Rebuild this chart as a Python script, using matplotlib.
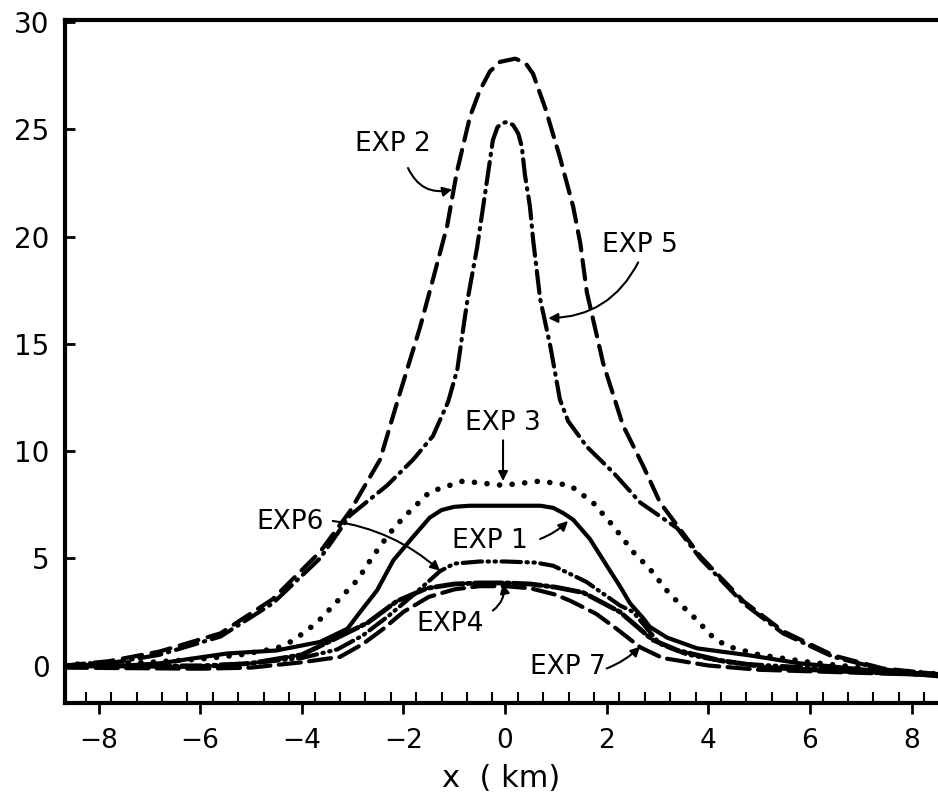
import matplotlib
matplotlib.use("Agg")
import matplotlib.pyplot as plt

plt.rcParams['font.family'] = ['DejaVu Sans']
plt.rcParams['lines.scale_dashes'] = False

# curves (x in km)
x_exp2 = [-8.66, -7.8, -6.8, -5.6, -4.57, -3.64, -3.05, -2.46, -2.07, -1.67, -1.42, -1.14, -0.95,
          -0.69, -0.5, -0.3, -0.1, 0.2, 0.4, 0.55, 0.79, 1.08, 1.34, 1.48, 1.61, 1.93, 2.32, 2.72,
          3.05, 3.84, 4.69, 5.47, 6.46, 7.44, 8.52]
y_exp2 = [0.0, 0.2, 0.65, 1.5, 3.1, 5.3, 7.2, 9.6, 12.7, 15.8, 18.0, 20.5, 23.0,
          25.6, 26.8, 27.7, 28.15, 28.3, 28.1, 27.6, 26.0, 23.7, 21.4, 19.7, 17.4, 14.1, 11.2, 9.3,
          7.6, 5.1, 3.0, 1.6, 0.47, -0.14, -0.4]

x_exp5 = [-8.66, -7.8, -6.8, -5.6, -4.57, -3.64, -3.05, -2.32, -1.81, -1.42, -1.12, -0.94, -0.75,
          -0.55, -0.35, -0.24, -0.15, -0.06, 0.05, 0.16, 0.26, 0.33, 0.39, 0.49, 0.55, 0.69, 0.89,
          1.08, 1.24, 1.61, 2.13, 2.66, 3.39, 3.84, 4.69, 5.47, 6.46, 7.44, 8.52]
y_exp5 = [-0.05, 0.1, 0.5, 1.35, 2.9, 5.0, 7.0, 8.4, 9.6, 10.7, 12.3, 13.8, 16.9,
          19.5, 22.7, 24.5, 25.1, 25.3, 25.35, 25.2, 24.8, 24.2, 22.9, 21.4, 19.9, 17.1, 14.9,
          12.4, 11.4, 10.2, 9.0, 7.6, 6.4, 5.0, 2.9, 1.5, 0.4, -0.18, -0.45]

x_exp3 = [-8.66, -7.0, -6.0, -5.2, -4.5, -4.17, -3.7, -3.3, -2.9, -2.6, -2.26, -2.0, -1.48, -0.83,
          -0.04, 0.69, 1.28, 1.73, 2.13, 2.52, 2.85, 3.25, 3.7, 4.1, 4.37, 5.0, 6.0, 7.0, 8.52]
y_exp3 = [0.05, 0.15, 0.3, 0.5, 0.8, 1.16, 2.0, 3.0, 4.0, 5.1, 6.2, 6.9, 8.1, 8.6,
          8.4, 8.6, 8.4, 7.6, 6.5, 5.3, 4.5, 3.3, 2.3, 1.3, 0.9, 0.5, 0.15, -0.1, -0.4]

x_exp1 = [-8.66, -7.8, -6.8, -6.14, -5.47, -4.5, -3.64, -3.1, -2.85, -2.52, -2.2, -1.81, -1.48,
          -1.25, -1.0, -0.7, 0.7, 0.95, 1.15, 1.34, 1.67, 2.07, 2.26, 2.46, 2.72, 2.85, 3.19, 3.78,
          4.82, 5.8, 7.1, 8.52]
y_exp1 = [0.0, -0.05, 0.1, 0.33, 0.56, 0.7, 1.1, 1.72, 2.5, 3.5, 4.9, 6.0, 6.9,
          7.25, 7.4, 7.45, 7.45, 7.35, 7.1, 6.8, 5.9, 4.4, 3.7, 2.9, 2.2, 1.8, 1.3, 0.8,
          0.47, 0.1, -0.2, -0.5]

x_exp6 = [-8.66, -6.0, -5.0, -4.0, -3.3, -2.8, -2.3, -1.8, -1.28, -1.0, -0.5, 0.0, 0.6, 0.95,
          1.6, 1.87, 2.26, 2.52, 2.66, 3.05, 3.6, 4.5, 6.0, 8.52]
y_exp6 = [0.0, 0.0, 0.1, 0.35, 0.75, 1.4, 2.3, 3.3, 4.4, 4.75, 4.85, 4.85, 4.8, 4.65,
          3.9, 3.45, 2.8, 2.5, 2.1, 1.0, 0.5, 0.1, -0.1, -0.4]

x_exp4 = [-8.66, -6.0, -5.0, -4.0, -3.3, -2.7, -2.13, -1.54, -1.0, -0.5, 0.0, 0.5, 1.0, 1.54,
          2.26, 2.9, 3.4, 4.2, 5.2, 6.5, 8.52]
y_exp4 = [0.0, -0.05, 0.1, 0.5, 1.3, 2.0, 3.0, 3.6, 3.8, 3.85, 3.85, 3.8, 3.65, 3.4,
          2.5, 1.2, 0.7, 0.25, -0.1, -0.25, -0.45]

x_exp7 = [-8.66, -6.0, -5.0, -4.0, -3.25, -2.8, -2.4, -2.0, -1.5, -1.0, -0.5, 0.0, 0.5, 1.0,
          1.3, 1.8, 2.2, 2.66, 3.1, 4.0, 5.0, 8.52]
y_exp7 = [-0.1, -0.15, -0.1, 0.15, 0.4, 1.0, 1.7, 2.5, 3.2, 3.55, 3.7, 3.7, 3.6, 3.3,
          3.0, 2.4, 1.7, 0.85, 0.35, 0.0, -0.2, -0.45]

# label text, text position, arrow start, arrow tip, curvature
labels = ["EXP 2", "EXP 5", "EXP 3", "EXP6", "EXP 1", "EXP4", "EXP 7"]
label_pos = [(-2.2, 24.3), (2.66, 19.6), (-0.04, 11.3), (-4.23, 6.7), (-0.3, 5.8), (-1.08, 1.95), (1.24, -0.05)]
arrow_from = [(-1.91, 23.2), (2.62, 18.8), (-0.04, 10.5), (-3.39, 6.74), (0.69, 5.9), (-0.24, 2.56), (2.0, -0.14)]
arrow_to = [(-1.04, 22.2), (0.85, 16.2), (-0.04, 8.6), (-1.28, 4.42), (1.24, 6.74), (-0.04, 3.81), (2.66, 0.88)]
arrow_rad = [0.4, -0.3, 0.0, -0.15, 0.1, 0.3, 0.1]

fig = plt.figure(figsize=(9.38, 7.96), dpi=100)
ax = fig.add_axes([0.0693, 0.1168, 0.9307, 0.858])

lw = 3
ax.plot(x_exp2, y_exp2, color='black', lw=lw, dashes=(14, 7), solid_capstyle='round', dash_capstyle='round')
ax.plot(x_exp5, y_exp5, color='black', lw=lw, dashes=(16, 5, 1, 5), dash_capstyle='round')
ax.plot(x_exp3, y_exp3, color='black', lw=4, dashes=(0.1, 9), dash_capstyle='round')
ax.plot(x_exp1, y_exp1, color='black', lw=lw, solid_capstyle='round', solid_joinstyle='round')
ax.plot(x_exp6, y_exp6, color='black', lw=lw, dashes=(14, 4, 1, 4, 1, 4), dash_capstyle='round')
ax.plot(x_exp4, y_exp4, color='black', lw=3.5, dashes=(20, 3, 2, 3), dash_capstyle='round')
ax.plot(x_exp7, y_exp7, color='black', lw=lw, dashes=(16, 6), dash_capstyle='round')

for txt, p, a, b, r in zip(labels, label_pos, arrow_from, arrow_to, arrow_rad):
    ax.text(p[0], p[1], txt, fontsize=19, ha='center', va='center')
    ax.annotate('', xy=b, xytext=a,
                arrowprops=dict(arrowstyle='-|>', color='black', lw=1.5, mutation_scale=14,
                                connectionstyle='arc3,rad=%s' % r, shrinkA=0, shrinkB=0))

ax.set_xlim(-8.66, 8.52)
ax.set_ylim(-1.75, 30.1)

ax.spines['right'].set_visible(False)
for s in ['left', 'bottom', 'top']:
    ax.spines[s].set_linewidth(3)

ax.set_xticks([-8, -6, -4, -2, 0, 2, 4, 6, 8])
ax.set_xticks([i * 0.5 - 8.25 for i in range(34)], minor=True)
ax.set_yticks([0, 5, 10, 15, 20, 25, 30])
ax.tick_params(axis='x', which='major', direction='out', length=8, width=2, labelsize=19, pad=10)
ax.tick_params(axis='x', which='minor', direction='in', length=8, width=1.5)
ax.tick_params(axis='y', which='major', direction='in', length=7, width=2, labelsize=20, pad=11)
ax.set_xticklabels(['\u22128', '\u22126', '\u22124', '\u22122', '0', '2', '4', '6', '8'])

ax.set_xlabel("x  ( km)", fontsize=22, labelpad=7)

fig.savefig("out.png", dpi=100)
